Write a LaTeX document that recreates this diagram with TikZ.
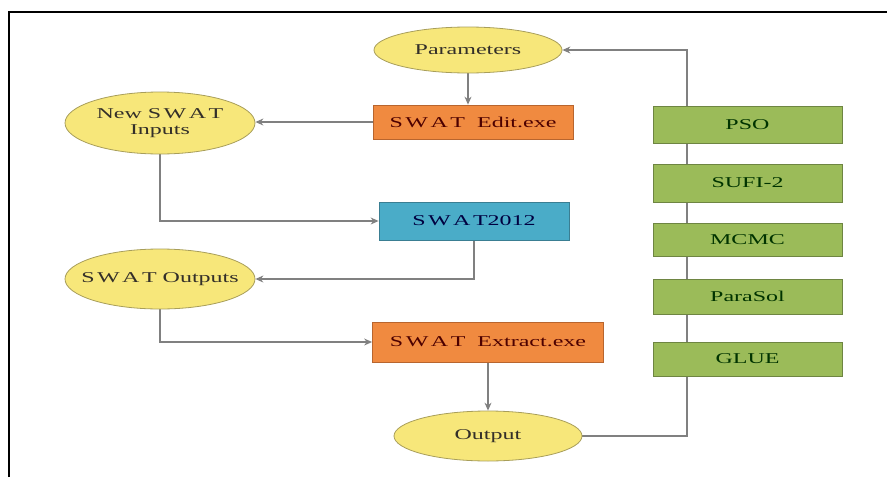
\documentclass[tikz,border=0pt]{standalone}
\usepackage{fontspec}
\newfontfamily\diag[FakeStretch=1.6]{Liberation Serif}
\usetikzlibrary{shapes.geometric,arrows.meta,backgrounds}
\definecolor{ellfill}{HTML}{F7E77A}
\definecolor{elldraw}{HTML}{A89E5A}
\definecolor{orfill}{HTML}{F08A40}
\definecolor{ordraw}{HTML}{B8652E}
\definecolor{blfill}{HTML}{4AACC8}
\definecolor{bldraw}{HTML}{3A7E92}
\definecolor{grfill}{HTML}{9BBB59}
\definecolor{grdraw}{HTML}{6E8542}
\definecolor{conn}{HTML}{808080}
\tikzset{
  base/.style={font=\diag\fontsize{15}{16}\selectfont, inner sep=0pt, line width=0.8pt, align=center},
  ell/.style={base, ellipse, fill=ellfill, draw=elldraw, text=black!85!olive},
  orbox/.style={base, rectangle, fill=orfill, draw=ordraw, text=black!70!red, minimum width=200pt, minimum height=34pt},
  blbox/.style={base, rectangle, fill=blfill, draw=bldraw, text=black!75!blue, minimum width=190pt, minimum height=38pt},
  grbox/.style={base, rectangle, fill=grfill, draw=grdraw, text=black!80!green, minimum width=189pt, minimum height=35pt},
  cn/.style={draw=conn, line width=1.1pt},
  arr/.style={cn, -{Stealth[length=8pt,width=7pt]}}
}
\begin{document}
\begin{tikzpicture}[x=1pt,y=-1pt]
\useasboundingbox (0,0) rectangle (887,477);
\draw[line width=2pt] (9,477) -- (9,12) -- (887,12);
\node[ell, minimum width=188pt, minimum height=46pt] (params) at (468,50) {Parameters};
\node[orbox] (edit) at (473,122) {S\,W\,A\,T\ \ Edit.exe};
\node[ell, minimum width=190pt, minimum height=62pt, inner xsep=-6pt, inner ysep=-6pt] (inputs) at (160,123) {New S\,W\,A\,T\\Inputs};
\node[blbox] (swat) at (474,221) {S\,W\,A\,T2012};
\node[ell, minimum width=190pt, minimum height=60pt, inner xsep=-12pt] (outputs) at (160,279) {S\,W\,A\,T Outputs};
\node[orbox, minimum width=231pt, minimum height=40pt] (extract) at (488,342) {S\,W\,A\,T\ \ Extract.exe};
\node[ell, minimum width=188pt, minimum height=50pt] (output) at (488,436) {Output};
\node[grbox, minimum height=37pt] (pso) at (747.5,124.5) {PSO};
\node[grbox, minimum height=38pt] (sufi) at (747.5,183) {SUFI-2};
\node[grbox, minimum height=33pt] (mcmc) at (747.5,239.5) {MCMC};
\node[grbox] (parasol) at (747.5,296.5) {ParaSol};
\node[grbox, minimum height=34pt] (glue) at (747.5,359) {GLUE};
\coordinate (coltop) at (687,50);
\begin{pgfonlayer}{background}
\draw[arr] (params.south) -- (params.south |- edit.north);
\draw[arr] (edit.west) -- (edit.west -| inputs.east);
\draw[arr] (inputs.south) |- (swat.west);
\draw[arr] (swat.south) |- (outputs.east);
\draw[arr] (outputs.south) |- (extract.west);
\draw[arr] (extract.south) -- (output.north);
\draw[arr] (output.east) -| (coltop) -- (params.east);
\end{pgfonlayer}
\end{tikzpicture}
\end{document}
